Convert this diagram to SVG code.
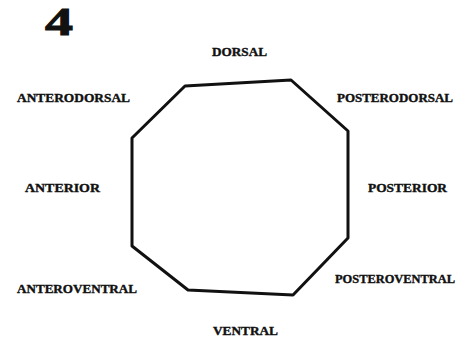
<svg xmlns="http://www.w3.org/2000/svg" width="467" height="339" viewBox="0 0 467 339">
<style>
.lbl{font-family:"Liberation Serif","Times New Roman",serif;font-weight:bold;font-size:13px;fill:#111;stroke:#111;stroke-width:0.4}
.shape{fill:none;stroke:#111;stroke-width:3;stroke-linejoin:round}
</style>
<rect width="467" height="339" fill="#fff"/>
<text x="45" y="35" textLength="28" lengthAdjust="spacingAndGlyphs" style="font-family:'Liberation Serif',serif;font-weight:bold;font-size:40px;fill:#111;stroke:#111;stroke-width:1">4</text>
<g id="octagon">
<polygon class="shape" points="185,86 291,80 348,131 348,238 293,295 188,290 132,246 132,138"/>
</g>
<g id="connectors"></g>
<g id="labels">
<text class="lbl" x="212" y="56" textLength="55" lengthAdjust="spacingAndGlyphs">DORSAL</text>
<text class="lbl" x="17" y="102" textLength="113" lengthAdjust="spacingAndGlyphs">ANTERODORSAL</text>
<text class="lbl" x="337" y="102" textLength="116" lengthAdjust="spacingAndGlyphs">POSTERODORSAL</text>
<text class="lbl" x="25" y="192" textLength="75" lengthAdjust="spacingAndGlyphs">ANTERIOR</text>
<text class="lbl" x="368" y="192" textLength="79" lengthAdjust="spacingAndGlyphs">POSTERIOR</text>
<text class="lbl" x="17" y="293" textLength="120" lengthAdjust="spacingAndGlyphs">ANTEROVENTRAL</text>
<text class="lbl" x="335" y="283" textLength="120" lengthAdjust="spacingAndGlyphs">POSTEROVENTRAL</text>
<text class="lbl" x="213" y="335" textLength="65" lengthAdjust="spacingAndGlyphs">VENTRAL</text>
</g>
</svg>
